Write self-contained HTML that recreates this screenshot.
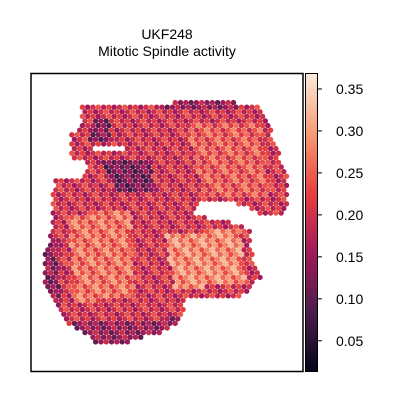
<!DOCTYPE html>
<html><head><meta charset="utf-8"><style>
html,body{margin:0;padding:0;background:#fff;}
svg text{font-family:"Liberation Sans",sans-serif;}
</style></head><body>
<svg id="c" width="400" height="400" viewBox="0 0 400 400" xmlns="http://www.w3.org/2000/svg">
<defs>
<linearGradient id="cm" x1="0" y1="1" x2="0" y2="0">
<stop offset="0" stop-color="#03051A"/><stop offset="0.2" stop-color="#4C1D4B"/><stop offset="0.4" stop-color="#A11A5B"/><stop offset="0.6" stop-color="#E83F3F"/><stop offset="0.8" stop-color="#F69C73"/><stop offset="1" stop-color="#FAEBDD"/>
</linearGradient>
</defs>
<text x="167" y="39" font-size="14" text-anchor="middle">UKF248</text>
<text x="167" y="56" font-size="14" text-anchor="middle">Mitotic Spindle activity</text>
<g id="spots"></g>
<rect x="31" y="73.5" width="272" height="298" fill="none" stroke="#000" stroke-width="1.5"/>
<rect x="305.5" y="73.5" width="12" height="298" fill="url(#cm)" stroke="#000" stroke-width="1"/>
<g id="cticks"></g>
</svg>
<script>
const tickValues=[0.05,0.10,0.15,0.20,0.25,0.30,0.35];
const vmin=0.014, vmax=0.369;
const tissue=[[80,107],[170,103],[200,100],[255,104],[268,120],[277,150],[287,170],[288,205],[285,215],[258,217],[255,210],[230,202],[200,203],[195,215],[230,222],[250,230],[253,260],[262,275],[248,292],[240,297],[210,300],[185,300],[183,318],[170,330],[130,342],[95,342],[70,325],[55,305],[45,290],[44,255],[50,240],[52,200],[55,180],[80,177],[90,165],[85,160],[72,160],[70,135],[80,125]];
const holes=[[[95,144],[127,144],[127,151],[95,151]],[[200,204],[230,203],[255,211],[257,216],[230,221],[198,214]]];
const regionPolys=[
 [[40,240],[58,240],[60,320],[40,320]],
 [[70,322],[185,318],[185,345],[70,345]],
 [[92,118],[110,118],[112,140],[90,140]],
 [[100,160],[150,162],[155,192],[115,192]],
 [[160,100],[240,100],[240,108],[160,108]],
 [[68,215],[130,210],[135,295],[75,305]],
 [[165,235],[240,228],[245,282],[175,290]],
 [[185,125],[260,125],[270,195],[205,195]]
];
const regionValues=[0.14,0.15,0.13,0.12,0.15,0.26,0.28,0.24];
const baseValue=0.2;
function inside(p,poly){let c=false;for(let i=0,j=poly.length-1;i<poly.length;j=i++){const a=poly[i],b=poly[j];if((a[1]>p[1])!=(b[1]>p[1])&&p[0]<(b[0]-a[0])*(p[1]-a[1])/(b[1]-a[1])+a[0])c=!c;}return c;}
const stops=[[0,[3,5,26]],[0.2,[76,29,75]],[0.4,[161,26,91]],[0.6,[232,63,63]],[0.8,[246,156,115]],[1,[250,235,221]]];
function color(v){let t=Math.max(0,Math.min(1,(v-vmin)/(vmax-vmin)));for(let i=1;i<stops.length;i++){if(t<=stops[i][0]){const a=stops[i-1],b=stops[i];const f=(t-a[0])/(b[0]-a[0]);return 'rgb('+a[1].map((x,k)=>Math.round(x+(b[1][k]-x)*f)).join(',')+')';}}return 'rgb(250,235,221)';}
function yScale(v){return 371-(v-vmin)/(vmax-vmin)*298;}
const NS='http://www.w3.org/2000/svg';
const g=document.getElementById('spots');
let row=0;
for(let y=98;y<346;y+=4.6,row++){
 for(let x=40+(row%2)*2.65;x<292;x+=5.3){
  const p=[x,y];
  if(!inside(p,tissue))continue;
  if(holes.some(h=>inside(p,h)))continue;
  let v=baseValue;
  regionPolys.forEach((r,i)=>{if(inside(p,r))v=regionValues[i];});
  const col=Math.round(x/5.3);
  v+=((col*7+row*3)%5-2)*0.022;
  const c=document.createElementNS(NS,'circle');
  
  
  c.setAttribute('cx',x.toFixed(1));c.setAttribute('cy',y.toFixed(1));c.setAttribute('r','2.7');
  c.setAttribute('fill',color(v));
  g.appendChild(c);
 }
}
const ct=document.getElementById('cticks');
tickValues.forEach(v=>{
 const y=yScale(v);
 const l=document.createElementNS(NS,'line');
 
 
 l.setAttribute('x1',317.5);l.setAttribute('x2',322);l.setAttribute('y1',y);l.setAttribute('y2',y);l.setAttribute('stroke','#000');
 ct.appendChild(l);
 const t=document.createElementNS(NS,'text');
 
 
 t.setAttribute('x',336);t.setAttribute('y',y+5);t.setAttribute('font-size','14');
 t.textContent=v.toFixed(2);
 ct.appendChild(t);
});
</script>
</body></html>
